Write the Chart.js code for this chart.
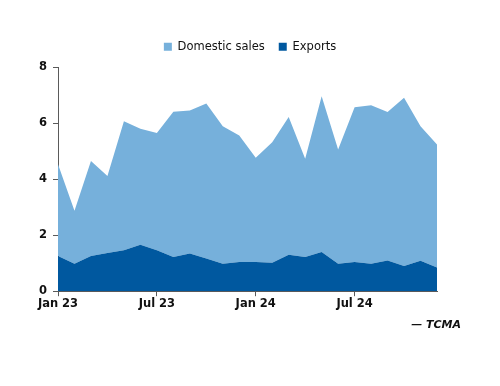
<!DOCTYPE html>
<html lang="en">
<head>
    <meta charset="UTF-8">
    <title>Domestic sales and exports</title>
    <script src="https://cdn.jsdelivr.net/npm/chart.js"></script>
    <style>
        body {
            margin: 0;
            background: #fff;
        }
        #wrap {
            width: 500px;
            height: 386px;
        }
    </style>
</head>
<body>
    <div id="wrap"><canvas id="myChart"></canvas></div>
    <script>
        // Monthly values, Jan 23 .. Dec 24
        const months = ['Jan 23', 'Feb 23', 'Mar 23', 'Apr 23', 'May 23', 'Jun 23',
            'Jul 23', 'Aug 23', 'Sep 23', 'Oct 23', 'Nov 23', 'Dec 23',
            'Jan 24', 'Feb 24', 'Mar 24', 'Apr 24', 'May 24', 'Jun 24',
            'Jul 24', 'Aug 24', 'Sep 24', 'Oct 24', 'Nov 24', 'Dec 24'];
        const exportsVals = [1.26, 0.98, 1.26, 1.37, 1.46, 1.66, 1.46, 1.22, 1.35, 1.17, 0.98, 1.04,
            1.04, 1.02, 1.30, 1.22, 1.40, 0.98, 1.04, 0.98, 1.10, 0.90, 1.09, 0.85];
        const domesticVals = [3.28, 1.90, 3.40, 2.75, 4.62, 4.15, 4.20, 5.20, 5.11, 5.54, 4.92, 4.53,
            3.73, 4.31, 4.93, 3.52, 5.57, 4.09, 5.54, 5.67, 5.31, 6.02, 4.81, 4.40];
        const shownLabels = ['Jan 23', 'Jul 23', 'Jan 24', 'Jul 24'];
        const sourceText = '\u2014 TCMA';

        const axisColor = '#5a5a5a';
        const font = { family: 'DejaVu Sans', size: 11.5, weight: 'bold' };

        // source note + centre the legend on the whole canvas
        const sourcePlugin = {
            id: 'source',
            afterLayout(chart) {
                chart.legend.left = 0;
                chart.legend.right = chart.width;
                chart.legend.width = chart.width;
                chart.legend.top -= 5;
                chart.legend.bottom -= 5;
            },
            afterDraw(chart) {
                const c = chart.ctx;
                c.save();
                c.font = 'italic bold 11px "DejaVu Sans"';
                c.fillStyle = '#111';
                c.textAlign = 'right';
                c.textBaseline = 'middle';
                c.fillText(sourceText, 461, 325);
                c.restore();
            }
        };

        new Chart(document.getElementById('myChart'), {
            type: 'line',
            data: {
                labels: months,
                datasets: [{
                    label: 'Exports',
                    data: exportsVals,
                    backgroundColor: '#00589f',
                    borderWidth: 0,
                    pointRadius: 0,
                    fill: 'origin'
                }, {
                    label: 'Domestic sales',
                    data: domesticVals,
                    backgroundColor: '#76b0db',
                    borderWidth: 0,
                    pointRadius: 0,
                    fill: '-1'
                }]
            },
            options: {
                responsive: true,
                maintainAspectRatio: false,
                animation: false,
                layout: { padding: { left: 33, right: 63, top: 32, bottom: 74 } },
                plugins: {
                    legend: {
                        position: 'top',
                        reverse: true,
                        labels: {
                            boxWidth: 8,
                            boxHeight: 8,
                            padding: 14,
                            color: '#111',
                            font: { family: 'DejaVu Sans', size: 11.5 }
                        }
                    },
                    tooltip: { enabled: false }
                },
                scales: {
                    x: {
                        grid: {
                            drawOnChartArea: false,
                            tickLength: 5,
                            color: ctx => shownLabels.includes(months[ctx.index]) ? axisColor : 'rgba(0,0,0,0)'
                        },
                        border: { color: axisColor, width: 1 },
                        ticks: {
                            autoSkip: false,
                            maxRotation: 0,
                            color: '#111',
                            font: font,
                            padding: 1,
                            callback: function (v, i) {
                                return shownLabels.includes(months[i]) ? months[i] : '';
                            }
                        }
                    },
                    y: {
                        stacked: true,
                        min: 0,
                        max: 8,
                        grid: { drawOnChartArea: false, tickLength: 5, color: axisColor },
                        border: { color: axisColor, width: 1 },
                        ticks: { stepSize: 2, color: '#111', font: font, padding: 6 }
                    }
                }
            },
            plugins: [sourcePlugin]
        });
    </script>
</body>
</html>
